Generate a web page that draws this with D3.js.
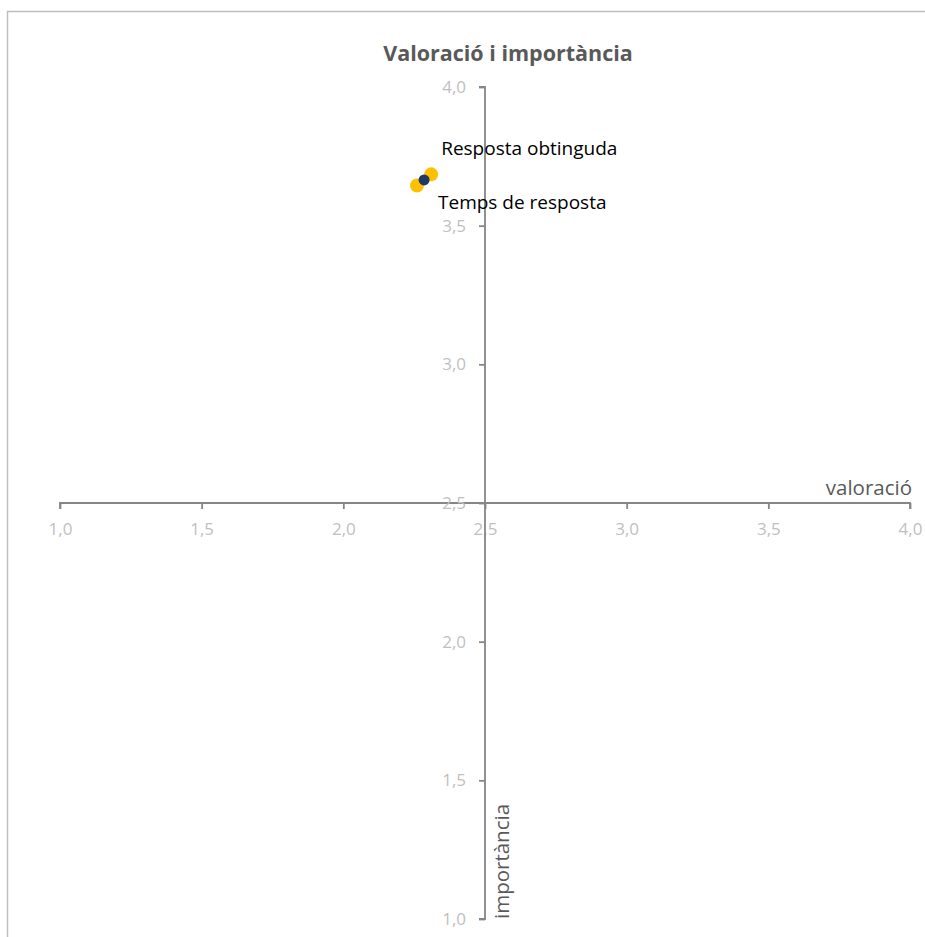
<!DOCTYPE html>
<html>
<head>
<meta charset="utf-8">
<script src="https://cdn.jsdelivr.net/npm/d3@7"></script>
<style>
  body { margin: 0; background: #fff; }
  svg { font-family: "Open Sans", "Noto Sans", sans-serif; }
</style>
</head>
<body>
<script>
// items (yellow) and their average (dark blue)
var itemNames = ["Temps de resposta", "Resposta obtinguda"];
var itemValoracio = [2.26, 2.31];
var itemImportancia = [3.645, 3.685];
var mitjanaValoracio = [2.285];
var mitjanaImportancia = [3.665];
var tickValues = [1.0, 1.5, 2.0, 2.5, 3.0, 3.5, 4.0];

var screen = {width: 925, height: 937}

var svg = d3.select("body")
            .append("svg")
            .attr("width", screen.width)
            .attr("height", screen.height);

// chart area border
svg.append("rect")
   .attr("x", 7.5)
   .attr("y", 11.5)
   .attr("width", screen.width + 10)
   .attr("height", screen.height + 10)
   .attr("fill", "none")
   .attr("stroke", "#bfbfbf")
   .attr("stroke-width", 1.5);

var x = d3.scaleLinear().domain([1, 4]).range([60, 910]);
var y = d3.scaleLinear().domain([1, 4]).range([919, 87]);

var fmt = function(d) { return d3.format(".1f")(d).replace(".", ","); }

// x axis crosses at 2,5
var xAxis = svg.append("g")
               .attr("transform", "translate(0," + y(2.5) + ")")
               .call(d3.axisBottom(x).tickValues(tickValues).tickSize(6).tickPadding(14).tickFormat(fmt));

var yAxis = svg.append("g")
               .attr("transform", "translate(" + x(2.5) + ",0)")
               .call(d3.axisLeft(y).tickValues(tickValues).tickSize(6).tickPadding(13).tickFormat(fmt));

[xAxis, yAxis].forEach(function(ax) {
  ax.select(".domain").attr("stroke", "#868686").attr("stroke-width", 1.8);
  ax.selectAll(".tick line").attr("stroke", "#868686").attr("stroke-width", 1.8);
  ax.selectAll(".tick text")
    .attr("fill", "#bfbfbf")
    .attr("font-size", "17px")
    .attr("font-family", "'Open Sans', 'Noto Sans', sans-serif");
})
xAxis.select(".domain").attr("d", "M" + x(1) + ",6V0H" + x(4) + "V6");
yAxis.select(".domain").attr("d", "M-6," + y(1) + "H0V" + y(4) + "H-6");

// title
svg.append("text")
   .attr("x", 508)
   .attr("y", 61)
   .attr("text-anchor", "middle")
   .attr("font-size", "21.5px")
   .attr("font-weight", "bold")
   .attr("fill", "#595959")
   .text("Valoració i importància");

// axis titles
svg.append("text")
   .attr("x", 912)
   .attr("y", y(2.5) - 8)
   .attr("text-anchor", "end")
   .attr("font-size", "20.5px")
   .attr("fill", "#595959")
   .text("valoració");

svg.append("text")
   .attr("transform", "translate(" + (x(2.5) + 24) + "," + y(1) + ") rotate(-90)")
   .attr("text-anchor", "start")
   .attr("font-size", "20.5px")
   .attr("fill", "#595959")
   .text("importància");

// points
svg.selectAll("circle.item")
   .data(itemNames)
   .enter()
   .append("circle")
   .attr("class", "item")
   .attr("cx", function(d, i) { return x(itemValoracio[i]); })
   .attr("cy", function(d, i) { return y(itemImportancia[i]); })
   .attr("r", 7)
   .attr("fill", "#ffc000");

svg.selectAll("circle.mitjana")
   .data(mitjanaValoracio)
   .enter()
   .append("circle")
   .attr("class", "mitjana")
   .attr("cx", function(d) { return x(d); })
   .attr("cy", function(d, i) { return y(mitjanaImportancia[i]); })
   .attr("r", 5.5)
   .attr("fill", "#1f3864");

// labels: first one below, second one above
var labelOffsets = [[21, 24], [10, -19]];
svg.selectAll("text.label")
   .data(itemNames)
   .enter()
   .append("text")
   .attr("class", "label")
   .attr("x", function(d, i) { return x(itemValoracio[i]) + labelOffsets[i][0]; })
   .attr("y", function(d, i) { return y(itemImportancia[i]) + labelOffsets[i][1]; })
   .attr("font-size", "19px")
   .attr("fill", "#000")
   .text(function(d) { return d; });
</script>
</body>
</html>
